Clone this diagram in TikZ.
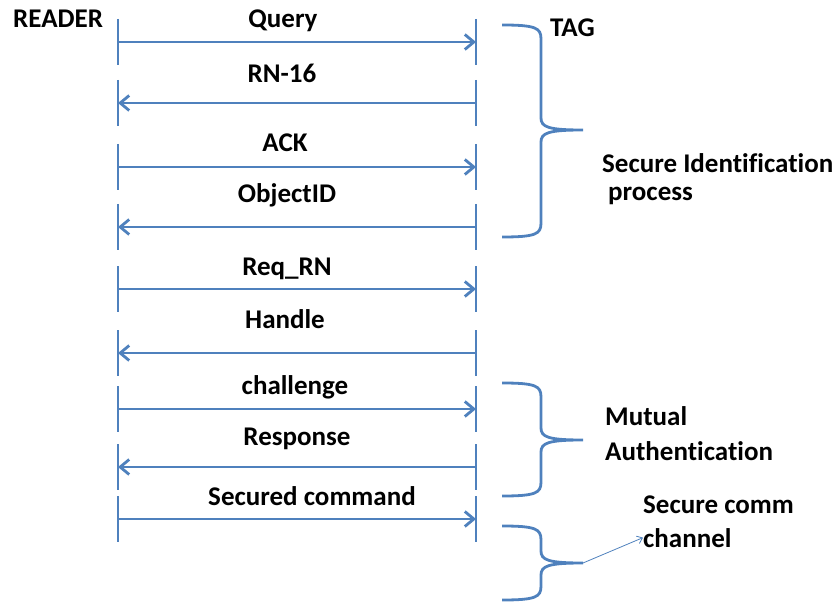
\documentclass[tikz,border=0pt]{standalone}
\usepackage{fontspec}
\setmainfont{Carlito}[Ligatures=NoCommon]
\usetikzlibrary{arrows.meta}
\definecolor{seqblue}{RGB}{79,129,189}
% curly brace: top y, tip y, bottom y
\newcommand{\curlybrace}[3]{%
  \draw[brc] (502,#1) .. controls (536,#1) and (541,#1+3) .. (541,#1+14)
    -- (541,#2-12) .. controls (541,#2-3) and (548,#2) .. (583,#2)
    .. controls (548,#2) and (541,#2+3) .. (541,#2+12)
    -- (541,#3-14) .. controls (541,#3-3) and (536,#3) .. (502,#3);}
\begin{document}
\begin{tikzpicture}[x=1pt,y=-1pt,
  lbl/.style={font=\fontsize{27}{30}\selectfont\bfseries, inner sep=0pt, anchor=base},
  side/.style={lbl, anchor=base west},
  msg/.style={draw=seqblue, line width=2.8pt, -{Straight Barb[length=9pt,width=15pt]}},
  lifetick/.style={draw=seqblue, line width=2.8pt},
  brc/.style={draw=seqblue, line width=2.8pt},
  pointer/.style={draw=seqblue, line width=0.8pt, -{Straight Barb[length=5pt,width=8pt]}}]
\useasboundingbox (0,0) rectangle (838,604);

% message end points on the two lifelines
\foreach \i/\y in {1/42, 2/103, 3/167, 4/227, 5/289, 6/353, 7/409, 8/467, 9/519} {
  \coordinate (L\i) at (118,\y);
  \coordinate (R\i) at (476,\y);
  \draw[lifetick] (L\i) ++(0,-23) -- ++(0,46);
  \draw[lifetick] (R\i) ++(0,-23) -- ++(0,46);
}

% messages
\draw[msg] (L1) -- (R1);
\draw[msg] (R2) -- (L2);
\draw[msg] (L3) -- (R3);
\draw[msg] (R4) -- (L4);
\draw[msg] (L5) -- (R5);
\draw[msg] (R6) -- (L6);
\draw[msg] (L7) -- (R7);
\draw[msg] (R8) -- (L8);
\draw[msg] (L9) -- (R9);

% message labels
\node[lbl] (tquery) at (283,28) {Query};
\node[lbl] (trn) at (282,83) {RN-16};
\node[lbl] (tack) at (285,152) {ACK};
\node[lbl] (tobj) at (287,203) {ObjectID};
\node[lbl] (treq) at (287,275) {Req\_RN};
\node[lbl] (thandle) at (285,328) {Handle};
\node[lbl] (tchal) at (295,394) {challenge};
\node[lbl] (tresp) at (297,445) {Response};
\node[lbl] (tsec) at (312,505) {Secured command};

% participants
\node[side] (reader) at (13,28) {READER};
\node[side] (tag) at (550,37) {TAG};

% phase braces
\curlybrace{25}{130}{237}
\curlybrace{383}{440}{496}
\curlybrace{526}{563}{600}
\coordinate (tip3) at (583,563);

% phase labels
\node[side] (sid1) at (602,173) {Secure Identification};
\node[side] (sid2) at (608,201) {process};
\node[side] (mut1) at (605,425) {Mutual};
\node[side] (mut2) at (605,460) {Authentication};
\node[side] (scc1) at (643,513) {Secure comm};
\node[side] (scc2) at (643,547) {channel};

\draw[pointer] (tip3) -- (scc2.west);
\end{tikzpicture}
\end{document}
